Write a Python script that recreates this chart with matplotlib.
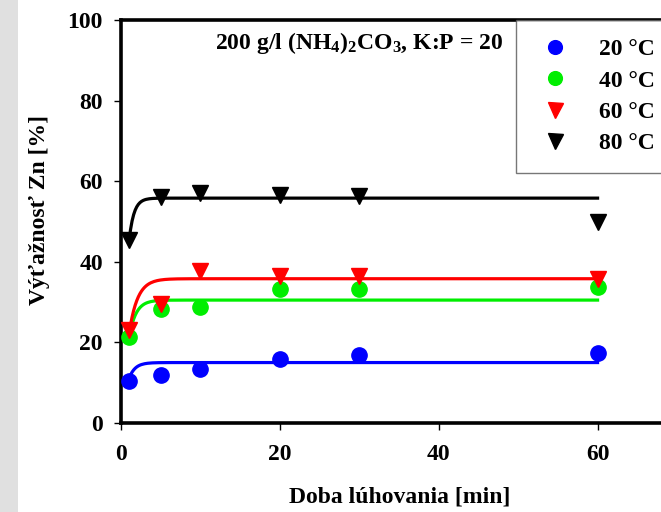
import numpy as np
import matplotlib.pyplot as plt
from matplotlib.patches import Rectangle

plt.rcParams['font.family'] = ['Liberation Serif', 'DejaVu Serif']
plt.rcParams['font.weight'] = 'bold'
plt.rcParams['mathtext.fontset'] = 'custom'
plt.rcParams['mathtext.rm'] = 'Liberation Serif:bold'
plt.rcParams['mathtext.default'] = 'rm'

# Measured data (leaching time in min, Zn yield in %)
time = [1, 5, 10, 20, 30, 60]
y20 = [10.4, 12.0, 13.5, 15.8, 16.8, 17.3]
y40 = [21.3, 28.3, 28.8, 33.2, 33.3, 33.8]
y60 = [23.0, 29.5, 37.8, 36.5, 36.5, 35.8]
y80 = [45.5, 56.0, 57.0, 56.5, 56.3, 50.0]

# Fitted model y = A * (1 - exp(-k t)), parameters
plateau = [15.0, 30.5, 35.8, 55.8]
rate = [1.32, 1.17, 0.95, 1.64]

labels = ['20 °C', '40 °C', '60 °C', '80 °C']
colors = ['#0000ff', '#00ee00', '#ff0000', '#000000']
markers = ['o', 'o', 'v', 'v']
series = [y20, y40, y60, y80]

fig = plt.figure(figsize=(6.61, 5.12), dpi=100)
fig.patches.append(Rectangle((0, 0), 18 / 661, 1, transform=fig.transFigure,
                             facecolor='#e0e0e0', edgecolor='none', zorder=-1))

ax = fig.add_axes([121 / 661, 89 / 512, 556 / 661, 403 / 512])

t_fit = np.linspace(1, 60, 300)
handles = []
for ys, A, k, c, m, lab in zip(series, plateau, rate, colors, markers, labels):
    ax.plot(t_fit, A * (1 - np.exp(-k * t_fit)), color=c, lw=2.3, zorder=2)
    h, = ax.plot(time, ys, linestyle='none', marker=m, color=c,
                 markersize=11 if m == 'o' else 12, zorder=3, label=lab)
    handles.append(h)

ax.set_xlim(0, 70)
ax.set_ylim(0, 100)
ax.set_xticks([0, 20, 40, 60])
ax.set_yticks([0, 20, 40, 60, 80, 100])
ax.tick_params(labelsize=17, length=5, width=1, pad=8)
ax.tick_params(axis='x', pad=10)
for sp in ['left', 'bottom', 'top']:
    ax.spines[sp].set_linewidth(2.6)
ax.spines['right'].set_visible(False)

fig.text(400 / 661, 1 - 497 / 512, 'Doba lúhovania [min]', fontsize=17,
         ha='center', va='center')
fig.text(40 / 661, 1 - 210 / 512, 'Výťažnosť Zn [%]', fontsize=17,
         rotation=90, ha='center', va='center')

fig.text(0.5 * (208 + 510) / 661, 1 - 43 / 512,
         r'200 g/l (NH$_4$)$_2$CO$_3$, K:P = 20',
         ha='center', va='center', fontsize=17)

leg = fig.legend(handles=handles, loc='upper left',
                 bbox_to_anchor=(516 / 661, 1 - 20 / 512), borderaxespad=0,
                 fancybox=False, fontsize=17, handletextpad=1.0,
                 labelspacing=0.41, borderpad=0.8, handlelength=1.7,
                 markerscale=0.9)
leg.get_frame().set_edgecolor('#555555')
leg.get_frame().set_linewidth(1)

fig.savefig('out.png', dpi=100)
